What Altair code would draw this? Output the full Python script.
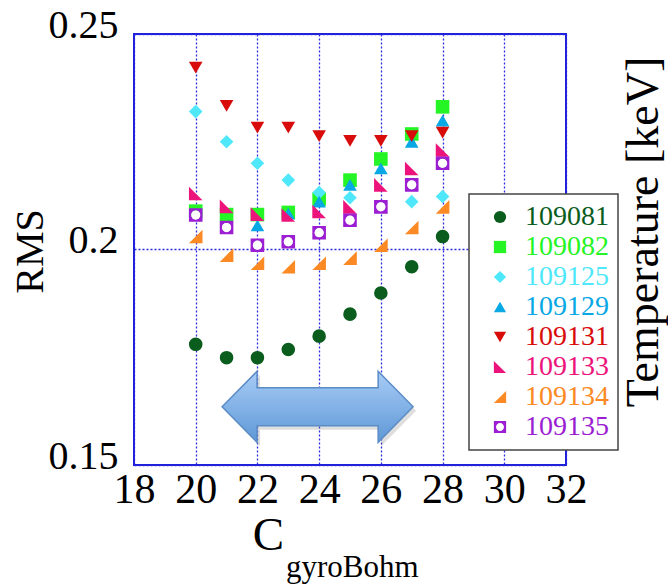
import altair as alt
import pandas as pd

# C_gyroBohm scan points
c_values = [20, 21, 22, 23, 24, 25, 26, 27, 28]
c_109125 = [20, 21, 22, 23, 24, 25, 27, 28]
c_109129 = [22, 23, 24, 25, 26, 27, 28]

# RMS per shot
rms_109081 = [0.1780, 0.1749, 0.1749, 0.1768, 0.1799, 0.1850, 0.1899, 0.1960, 0.2030]
rms_109082 = [0.2089, 0.2081, 0.2081, 0.2086, 0.2117, 0.2161, 0.2210, 0.2268, 0.2331]
rms_109125 = [0.2320, 0.2250, 0.2200, 0.2161, 0.2132, 0.2120, 0.2111, 0.2123]
rms_109129 = [0.2056, 0.2083, 0.2111, 0.2150, 0.2188, 0.2250, 0.2299]
rms_109131 = [0.2422, 0.2333, 0.2283, 0.2283, 0.2263, 0.2252, 0.2252, 0.2263, 0.2271]
rms_109133 = [0.2130, 0.2100, 0.2082, 0.2080, 0.2088, 0.2099, 0.2150, 0.2188, 0.2231]
rms_109134 = [0.2030, 0.1987, 0.1968, 0.1960, 0.1968, 0.1980, 0.2010, 0.2051, 0.2099]
rms_109135 = [0.2080, 0.2051, 0.2010, 0.2018, 0.2039, 0.2068, 0.2099, 0.2150, 0.2200]

shots = ["109081", "109082", "109125", "109129", "109131", "109133", "109134", "109135"]
colors = ["#0b5d1e", "#25f425", "#4fe8fa", "#08a8e4", "#d90c0c", "#ec147a", "#fb8a24", "#9b1ed2"]

# custom symbol paths (unit box -1..1)
TRI_LOWER_LEFT = "M-1,-1 L1,1 L-1,1 Z"
TRI_LOWER_RIGHT = "M1,-1 L1,1 L-1,1 Z"
SQUARE_RING = ("M-1,-1 L1,-1 L1,1 L-1,1 Z "
               "M0.65,0 A0.65,0.65 0 1,0 -0.65,0 A0.65,0.65 0 1,0 0.65,0 Z")
shapes = ["circle", "square", "diamond", "triangle-up", "triangle-down",
          TRI_LOWER_LEFT, TRI_LOWER_RIGHT, SQUARE_RING]

# double-headed arrow marking the C range
arrow_x = [23.95]
arrow_y = [0.1635]
ARROW = ("M-1,0 L-0.634,-0.372 L-0.634,-0.199 L0.634,-0.199 L0.634,-0.372 "
         "L1,0 L0.634,0.372 L0.634,0.199 L-0.634,0.199 L-0.634,0.372 Z")

series = [
    ("109081", c_values, rms_109081),
    ("109082", c_values, rms_109082),
    ("109125", c_109125, rms_109125),
    ("109129", c_109129, rms_109129),
    ("109131", c_values, rms_109131),
    ("109133", c_values, rms_109133),
    ("109134", c_values, rms_109134),
    ("109135", c_values, rms_109135),
]
rows = []
for shot, xs, ys in series:
    for cx, ry in zip(xs, ys):
        rows.append({"shot": shot, "C": cx, "RMS": ry})
df = pd.DataFrame(rows)
df_ring = df[df["shot"] == "109135"]
df_arrow = pd.DataFrame({"C": arrow_x, "RMS": arrow_y})

FONT = "Liberation Serif"

x_scale = alt.Scale(domain=[18, 32], nice=False, zero=False)
y_scale = alt.Scale(domain=[0.15, 0.25], nice=False, zero=False)

x_axis = alt.Axis(
    values=list(range(18, 33, 2)), labelFontSize=42, labelPadding=4, labelFlush=False,
    title="C", titleFontSize=47, titleX=134, titleY=84, titleAngle=0,
    titleBaseline="alphabetic", titleAlign="center",
)
y_axis = alt.Axis(
    values=[0.15, 0.2, 0.25], format=".2~f", labelFontSize=40, labelPadding=16,
    labelBaseline="alphabetic", labelOffset=3, labelFlush=False,
    title="RMS", titleFontSize=40, titleX=-92, titleY=217, titleAngle=270,
    titleBaseline="alphabetic", titleAlign="center",
)

legend = alt.Legend(
    title=None, orient="none", legendX=335, legendY=160,
    fillColor="white", strokeColor="#444444", padding=9,
    labelFont=FONT, labelFontSize=28, labelOffset=11,
    labelColor=alt.ExprRef("scale('color', datum.value)"),
    symbolSize=150, symbolOffset=8, symbolStrokeWidth=0, symbolOpacity=1,
    rowPadding=2,
)

x_enc = alt.X("C:Q", scale=x_scale, axis=x_axis)
y_enc = alt.Y("RMS:Q", scale=y_scale, axis=y_axis)

gradient = alt.LinearGradient(
    gradient="linear",
    stops=[alt.GradientStop(color="#a8ccf6", offset=0),
           alt.GradientStop(color="#5e98d6", offset=1)],
    x1=0, x2=0, y1=0, y2=1,
)

arrow_shadow = alt.Chart(df_arrow).mark_point(
    shape=ARROW, size=36481, filled=True, fill="#6a6a6a", opacity=0.22,
    xOffset=3, yOffset=4,
).encode(x=x_enc, y=y_enc)

arrow = alt.Chart(df_arrow).mark_point(
    shape=ARROW, size=36481, filled=True, fill=gradient, opacity=1,
    stroke="#5b8cc6", strokeWidth=1.5,
).encode(x=x_enc, y=y_enc)

points = alt.Chart(df).mark_point(filled=True, size=185, opacity=1).encode(
    x=x_enc,
    y=y_enc,
    color=alt.Color("shot:N", scale=alt.Scale(domain=shots, range=colors), legend=legend),
    shape=alt.Shape("shot:N", scale=alt.Scale(domain=shots, range=shapes), legend=legend),
)

rings = alt.Chart(df_ring).mark_point(
    shape="circle", filled=True, fill="white", size=85, opacity=1
).encode(x=x_enc, y=y_enc)

temp_label = alt.Chart(pd.DataFrame({"t": ["Temperature [keV]"]})).mark_text(
    font=FONT, fontSize=46, angle=270, align="center", baseline="alphabetic", color="black"
).encode(x=alt.value(524), y=alt.value(198), text="t:N")

sub_label = alt.Chart(pd.DataFrame({"t": ["gyroBohm"]})).mark_text(
    font=FONT, fontSize=31, align="left", baseline="alphabetic", color="black"
).encode(x=alt.value(152), y=alt.value(543), text="t:N")

chart = alt.layer(arrow_shadow, arrow, points, rings, temp_label, sub_label).properties(
    width=432, height=431,
    autosize=alt.AutoSizeParams(type="none"),
    padding={"left": 134, "top": 34, "right": 102, "bottom": 120},
    background="white",
).configure_view(
    stroke="#1f1fd8", strokeWidth=2
).configure_axis(
    labelFont=FONT, titleFont=FONT, labelColor="black", titleColor="black",
    titleFontWeight="normal", domain=False, ticks=False,
    gridColor="#2a2ae0", gridDash=[2, 2], gridWidth=1.3, gridOpacity=1,
).configure_legend(
    strokeWidth=1.5
)

chart.save("out.html", embed_options={"renderer": "svg", "actions": False})
